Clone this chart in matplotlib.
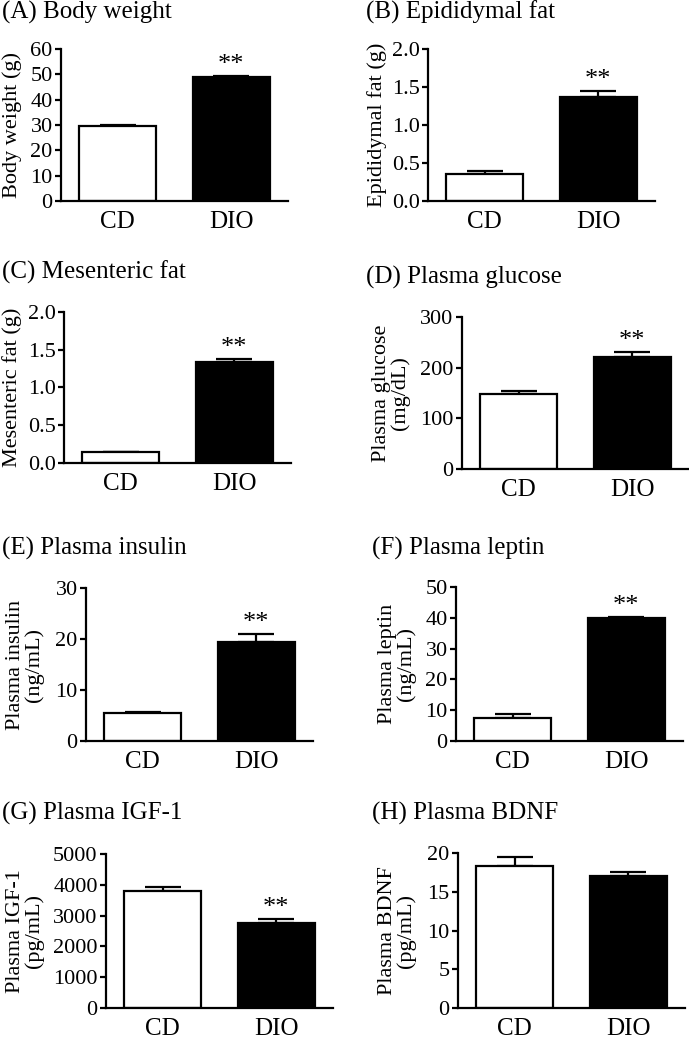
"""
Eight bar panels: CD vs DIO mice
"""

import numpy as np
import matplotlib
matplotlib.use('Agg')
import matplotlib.pyplot as plt

###############################################################################
# Data
groups = ['CD', 'DIO']

titles = ['(A) Body weight', '(B) Epididymal fat', '(C) Mesenteric fat',
          '(D) Plasma glucose', '(E) Plasma insulin', '(F) Plasma leptin',
          '(G) Plasma IGF-1', '(H) Plasma BDNF']
ylabels = ['Body weight (g)', 'Epididymal fat (g)', 'Mesenteric fat (g)',
           'Plasma glucose\n(mg/dL)', 'Plasma insulin\n(ng/mL)',
           'Plasma leptin\n(ng/mL)', 'Plasma IGF-1\n(pg/mL)',
           'Plasma BDNF\n(pg/mL)']

means = [[29.6, 48.8], [0.36, 1.37], [0.14, 1.335], [148, 222],
         [5.4, 19.5], [7.6, 40.0], [3810, 2760], [18.3, 17.0]]
sems = [[0.3, 0.5], [0.03, 0.08], [0.01, 0.04], [6, 9],
        [0.25, 1.4], [1.3, 0.4], [130, 120], [1.2, 0.5]]
stars = [[False, True], [False, True], [False, True], [False, True],
         [False, True], [False, True], [False, True], [False, False]]

yticks = [[0, 10, 20, 30, 40, 50, 60],
          [0.0, 0.5, 1.0, 1.5, 2.0],
          [0.0, 0.5, 1.0, 1.5, 2.0],
          [0, 100, 200, 300],
          [0, 10, 20, 30],
          [0, 10, 20, 30, 40, 50],
          [0, 1000, 2000, 3000, 4000, 5000],
          [0, 5, 10, 15, 20]]
ytick_fmt = ['%d', '%.1f', '%.1f', '%d', '%d', '%d', '%d', '%d']

###############################################################################
# Layout (pixels): axes left, right, top, bottom ; title pos ; ylabel x
W, H = 689, 1040
boxes = [[61, 288, 49, 201], [428, 655, 49, 201],
         [64, 291, 312, 463], [462, 689, 317, 469],
         [86, 313, 588, 741], [456, 683, 587, 741],
         [106, 333, 854, 1008], [458, 685, 853, 1008]]
title_xy = [[2, 12], [366, 12], [2, 272], [366, 277],
            [2, 548], [372, 548], [2, 813], [372, 813]]
ylab_x = [12, 377, 12, 391, 25, 397, 25, 397]

plt.rcParams['font.family'] = ['Liberation Serif', 'DejaVu Serif']
plt.rcParams['mathtext.fontset'] = 'stix'

fig = plt.figure(figsize=[W/100, H/100], dpi=100)

for k in range(8):
    l, r, t, b = boxes[k]
    ax = fig.add_axes([l/W, 1 - b/H, (r - l)/W, (b - t)/H])
    x = np.arange(2)
    ax.bar(x, means[k], width=0.68, color=['white', 'black'],
           edgecolor='black', linewidth=1.6, zorder=2)
    ax.errorbar(x, means[k], yerr=[[0, 0], sems[k]], fmt='none',
                ecolor='black', elinewidth=1.6, capsize=13, capthick=1.6,
                zorder=1)
    for i in range(2):
        if stars[k][i]:
            ax.annotate('**', (x[i], means[k][i] + sems[k][i]),
                        xytext=(0, 0), textcoords='offset points',
                        ha='center', va='bottom', fontsize=19)
    ax.set_xlim(-0.5, 1.5)
    ax.set_ylim(0, yticks[k][-1])
    ax.set_yticks(yticks[k], labels=[ytick_fmt[k] % v for v in yticks[k]],
                  fontsize=16)
    ax.set_xticks(x, labels=groups, fontsize=18)
    ax.tick_params(axis='x', length=0, pad=7)
    ax.tick_params(axis='y', length=4, width=1.6, pad=2)
    ax.spines['top'].set_visible(False)
    ax.spines['right'].set_visible(False)
    ax.spines['left'].set_linewidth(1.6)
    ax.spines['bottom'].set_linewidth(1.6)
    fig.text(title_xy[k][0]/W, 1 - title_xy[k][1]/H, titles[k],
             ha='left', va='center', fontsize=18)
    fig.text(ylab_x[k]/W, 1 - (t + b)/2/H, ylabels[k], rotation=90,
             ha='center', va='center', fontsize=16, multialignment='center',
             linespacing=1.0)

plt.savefig('out.png', dpi=100)
